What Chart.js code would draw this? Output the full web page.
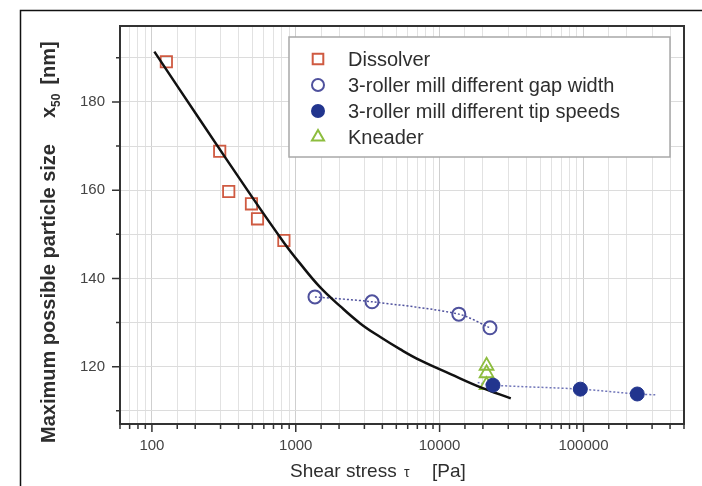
<!DOCTYPE html>
<html>
<head>
	<title>Particle size vs shear stress</title>
	<script src="https://cdn.jsdelivr.net/npm/chart.js"></script>
	<style>
		body { margin: 0; background: #fff; }
	</style>
</head>
<body>
	<canvas id="myChart" width="702" height="486"></canvas>

	<script>
		// values
		const dissolverX = [126, 296, 342, 492, 542, 827];
		const dissolverY = [189.1, 168.8, 159.7, 156.9, 153.5, 148.6];
		const gapX = [1360, 3390, 13600, 22400];
		const gapY = [135.8, 134.7, 131.9, 128.8];
		const tipX = [23500, 95100, 236600];
		const tipY = [115.8, 114.9, 113.8];
		const kneaderX = [21200, 21200, 21200];
		const kneaderY = [120.2, 118.5, 115.8];
		// fitted curves as drawn in the figure
		const fitX = [104, 215, 479, 828, 1070, 1475, 2035, 2806, 3869, 5337, 7356, 11920, 19300, 31250];
		const fitY = [191.4, 176.0, 159.2, 148.1, 143.4, 138.0, 133.7, 129.8, 126.7, 123.9, 121.4, 118.3, 115.3, 112.8];
		const tipFitX = [18400, 23500, 95100, 236600, 321000];
		const tipFitY = [116.4, 115.8, 114.9, 113.8, 113.6];
		const xLabels = [100, 1000, 10000, 100000];
		const yLabels = [120, 140, 160, 180];

		const pts = (xs, ys) => xs.map((x, i) => ({ x: x, y: ys[i] }));
		const FONT = "'Liberation Sans', Arial, sans-serif";
		const isLabel = (list, v) => list.some(l => Math.abs(l - v) < 1e-6);

		const decorations = {
			id: 'decorations',
			beforeDraw(chart) {
				const ctx = chart.ctx;
				ctx.save();
				ctx.strokeStyle = '#111';
				ctx.lineWidth = 1.5;
				ctx.beginPath();
				ctx.moveTo(20.5, 486);
				ctx.lineTo(20.5, 10.5);
				ctx.lineTo(702, 10.5);
				ctx.stroke();
				ctx.restore();
			},
			afterDraw(chart) {
				const ctx = chart.ctx;
				const a = chart.chartArea;
				const xs = chart.scales.x, ys = chart.scales.y;
				ctx.save();
				// frame
				ctx.strokeStyle = '#333';
				ctx.lineWidth = 2;
				ctx.strokeRect(a.left, a.top, a.right - a.left, a.bottom - a.top);
				// tick marks
				ctx.lineWidth = 1.5;
				ctx.beginPath();
				xs.ticks.forEach(t => {
					const px = xs.getPixelForValue(t.value);
					const major = isLabel(xLabels, t.value);
					ctx.moveTo(px, a.bottom);
					ctx.lineTo(px, a.bottom + (major ? 8 : 5));
				});
				ys.ticks.forEach(t => {
					const py = ys.getPixelForValue(t.value);
					const major = isLabel(yLabels, t.value);
					ctx.moveTo(a.left, py);
					ctx.lineTo(a.left - (major ? 8 : 4), py);
				});
				ctx.stroke();

				// legend
				const lx = 289, ly = 37, lw = 381, lh = 120;
				ctx.fillStyle = '#fff';
				ctx.fillRect(lx, ly, lw, lh);
				ctx.strokeStyle = '#a8a8a8';
				ctx.lineWidth = 1.5;
				ctx.strokeRect(lx, ly, lw, lh);
				let row = 0;
				chart.data.datasets.forEach(ds => {
					if (!ds.inLegend) return;
					const cy = 59 + row * 26;
					ctx.strokeStyle = ds.borderColor;
					ctx.fillStyle = ds.pointBackgroundColor;
					ctx.lineWidth = 2;
					Chart.helpers.drawPoint(ctx, {
						pointStyle: ds.pointStyle, rotation: 0,
						radius: ds.pointStyle === 'rect' ? 7.5 : (ds.pointStyle === 'triangle' ? 7 : 6),
						borderWidth: 2
					}, 318, cy);
					ctx.fillStyle = '#2e2e2e';
					ctx.font = '20px ' + FONT;
					ctx.textBaseline = 'middle';
					ctx.textAlign = 'left';
					ctx.fillText(ds.label, 348, cy + 1);
					row++;
				});

				// axis titles
				ctx.fillStyle = '#2e2e2e';
				ctx.textBaseline = 'alphabetic';
				ctx.font = '19px ' + FONT;
				ctx.fillText('Shear stress', 290, 477);
				ctx.font = '14px ' + FONT;
				ctx.fillText('\u03C4', 404, 477);
				ctx.font = '19px ' + FONT;
				ctx.fillText('[Pa]', 432, 477);

				ctx.translate(55, 443);
				ctx.rotate(-Math.PI / 2);
				const pieces = [
					{ t: 'Maximum possible particle size', f: 'bold 20px ', dy: 0, gap: 26 },
					{ t: 'x', f: 'bold 20px ', dy: 0, gap: 0 },
					{ t: '50', f: 'bold 12px ', dy: 5, gap: 9 },
					{ t: '[nm]', f: 'bold 20px ', dy: 0, gap: 0 }
				];
				let cx = 0;
				pieces.forEach(p => {
					ctx.font = p.f + FONT;
					ctx.fillText(p.t, cx, p.dy);
					cx += ctx.measureText(p.t).width + p.gap;
				});
				ctx.restore();
			}
		};

		const ctx = document.getElementById('myChart').getContext('2d');
		const chart = new Chart(ctx, {
			type: 'scatter',
			data: {
				datasets: [
					{
						label: 'Dissolver', inLegend: true,
						data: pts(dissolverX, dissolverY),
						pointStyle: 'rect', pointRadius: 8, borderWidth: 1.8,
						borderColor: '#cf5a41', pointBackgroundColor: 'rgba(255,255,255,0)',
						backgroundColor: 'rgba(255,255,255,0)', order: 2
					},
					{
						label: '3-roller mill different gap width', inLegend: true,
						data: pts(gapX, gapY),
						pointStyle: 'circle', pointRadius: 6.5, pointBorderWidth: 2,
						borderColor: '#4f519d', pointBackgroundColor: 'rgba(255,255,255,0)',
						showLine: true, borderWidth: 1.5, borderDash: [2, 2], tension: 0.3,
						backgroundColor: 'rgba(255,255,255,0)', order: 4
					},
					{
						label: '3-roller mill different tip speeds', inLegend: true,
						data: pts(tipX, tipY),
						pointStyle: 'circle', pointRadius: 7, borderWidth: 1,
						borderColor: '#22358e', pointBackgroundColor: '#22358e',
						backgroundColor: '#22358e', order: 0
					},
					{
						label: 'Kneader', inLegend: true,
						data: pts(kneaderX, kneaderY),
						pointStyle: 'triangle', pointRadius: 8, borderWidth: 1.8,
						borderColor: '#8dbd3e', pointBackgroundColor: 'rgba(255,255,255,0)',
						backgroundColor: 'rgba(255,255,255,0)', order: 3
					},
					{
						label: 'fit', inLegend: false,
						data: pts(fitX, fitY),
						showLine: true, pointRadius: 0, borderColor: '#111', borderWidth: 2.5,
						tension: 0.4, order: 1
					},
					{
						label: 'tip fit', inLegend: false,
						data: pts(tipFitX, tipFitY),
						showLine: true, pointRadius: 0, borderColor: '#6f74b8', borderWidth: 1.5,
						borderDash: [2, 2], tension: 0.3, order: 5
					}
				]
			},
			options: {
				responsive: false,
				animation: false,
				events: [],
				layout: { padding: { left: 0, top: 26, right: 18, bottom: 0 } },
				plugins: { legend: { display: false }, tooltip: { enabled: false } },
				scales: {
					x: {
						type: 'logarithmic', min: 60, max: 500000,
						afterFit: s => { s.height = 62; },
						grid: {
							drawTicks: false,
							color: c => (c.tick && isLabel(xLabels, c.tick.value)) ? '#cfcfcf' : '#e2e2e2',
							lineWidth: 1
						},
						border: { display: false },
						ticks: {
							autoSkip: false, maxRotation: 0, padding: 13, color: '#444',
							font: { family: FONT, size: 15 },
							callback: v => isLabel(xLabels, v) ? String(v) : ''
						}
					},
					y: {
						min: 107, max: 197.2,
						afterFit: s => { s.width = 120; },
						grid: { drawTicks: false, color: '#dcdcdc', lineWidth: 1 },
						border: { display: false },
						ticks: {
							stepSize: 10, includeBounds: false, autoSkip: false, padding: 15, color: '#444',
							font: { family: FONT, size: 15 },
							callback: v => isLabel(yLabels, v) ? String(v) : ''
						}
					}
				}
			},
			plugins: [decorations]
		});
	</script>
</body>
</html>
